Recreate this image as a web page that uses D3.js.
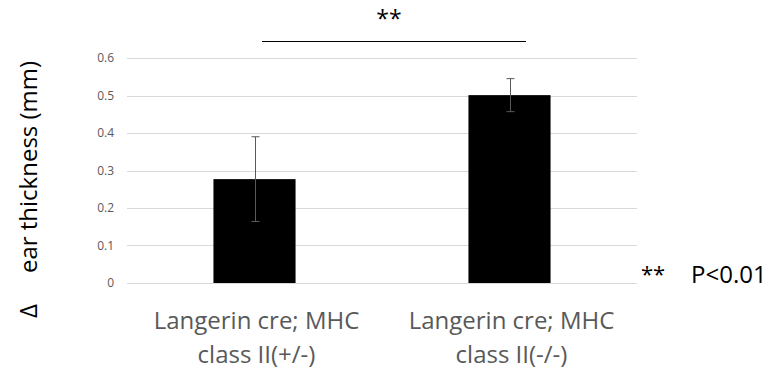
<!DOCTYPE html>
<html><head><meta charset="utf-8">
<script src="https://cdn.jsdelivr.net/npm/d3@7"></script>
<style>body{margin:0;background:#fff}svg{display:block}</style>
</head><body>
<svg id="c" width="769" height="370"></svg>
<script>
const categories = ["Langerin cre; MHC|class II(+/-)", "Langerin cre; MHC|class II(-/-)"];
const values = [0.277, 0.501];
const errors = [0.113, 0.044];
const yTicks = [0, 0.1, 0.2, 0.3, 0.4, 0.5, 0.6];
const yLabel = "ear thickness (mm)";
const sigLabel = "**";
const noteLabel = ["**", "P<0.01"];

const svg = d3.select("#c");
const pLeft = 127, pRight = 637, pTop = 58, pBottom = 283;
const x = d3.scaleBand().domain(categories).range([pLeft, pRight]).paddingInner(0.678).paddingOuter(0.339);
const y = d3.scaleLinear().domain([0, 0.6]).range([pBottom, pTop]);

// gridlines
svg.append("g").selectAll("line").data(yTicks).join("line")
  .attr("x1", pLeft).attr("x2", pRight)
  .attr("y1", d => Math.round(y(d)) + 0.5).attr("y2", d => Math.round(y(d)) + 0.5)
  .attr("stroke", "#d9d9d9").attr("stroke-width", 1);

const font = "'Open Sans', sans-serif";
// y axis labels
const yAxis = d3.axisLeft(y).tickValues(yTicks).tickSize(0).tickPadding(13).tickFormat(d => d === 0 ? "0" : d3.format(".1f")(d));
const ga = svg.append("g").attr("transform", `translate(${pLeft},0)`).call(yAxis);
ga.select(".domain").remove();
ga.selectAll("text").attr("fill", "#595959").style("font-family", font).style("font-size", "12px");

// bars
svg.append("g").selectAll("rect").data(categories).join("rect")
  .attr("x", d => x(d)).attr("width", x.bandwidth())
  .attr("y", (d, i) => y(values[i])).attr("height", (d, i) => y(0) - y(values[i]))
  .attr("fill", "#000");

// error bars
const eg = svg.append("g").attr("stroke", "#595959").attr("stroke-width", 1);
categories.forEach((c, i) => {
  const cx = Math.round(x(c) + x.bandwidth() / 2) + 0.5;
  const y1 = y(values[i] + errors[i]), y2 = y(values[i] - errors[i]);
  eg.append("line").attr("x1", cx).attr("x2", cx).attr("y1", y1).attr("y2", y2);
  eg.append("line").attr("x1", cx - 4).attr("x2", cx + 4).attr("y1", y1).attr("y2", y1);
  eg.append("line").attr("x1", cx - 4).attr("x2", cx + 4).attr("y1", y2).attr("y2", y2);
});

// category labels
categories.forEach(c => {
  const lines = c.split("|");
  const t = svg.append("text").attr("text-anchor", "middle").attr("fill", "#595959")
    .style("font-family", font).style("font-size", "24px");
  lines.forEach((l, j) => t.append("tspan").attr("x", x(c) + x.bandwidth() / 2 + 2).attr("y", 329 + j * 34).text(l));
});

// y-axis title
svg.append("text").attr("transform", "translate(37,167) rotate(-90)").attr("text-anchor", "middle")
  .style("font-family", font).style("font-size", "24px").attr("fill", "#000").text(yLabel);
svg.append("text").attr("transform", "translate(37,311) rotate(-90)").attr("text-anchor", "middle")
  .style("font-family", font).style("font-size", "24px").attr("fill", "#000").text("\u0394");

// significance bracket
const sx1 = 262, sx2 = 526;
svg.append("line").attr("x1", sx1).attr("x2", sx2).attr("y1", 41.5).attr("y2", 41.5).attr("stroke", "#000").attr("stroke-width", 1);
svg.append("text").attr("x", 389).attr("y", 27)
  .attr("text-anchor", "middle").style("font-family", font).style("font-size", "23px").text(sigLabel);

// note
svg.append("text").attr("x", 641).attr("y", 282).style("font-family", font).style("font-size", "22px").text(noteLabel[0]);
svg.append("text").attr("x", 691).attr("y", 283).style("font-family", font).style("font-size", "24px").text(noteLabel[1]);
</script>
</body></html>
